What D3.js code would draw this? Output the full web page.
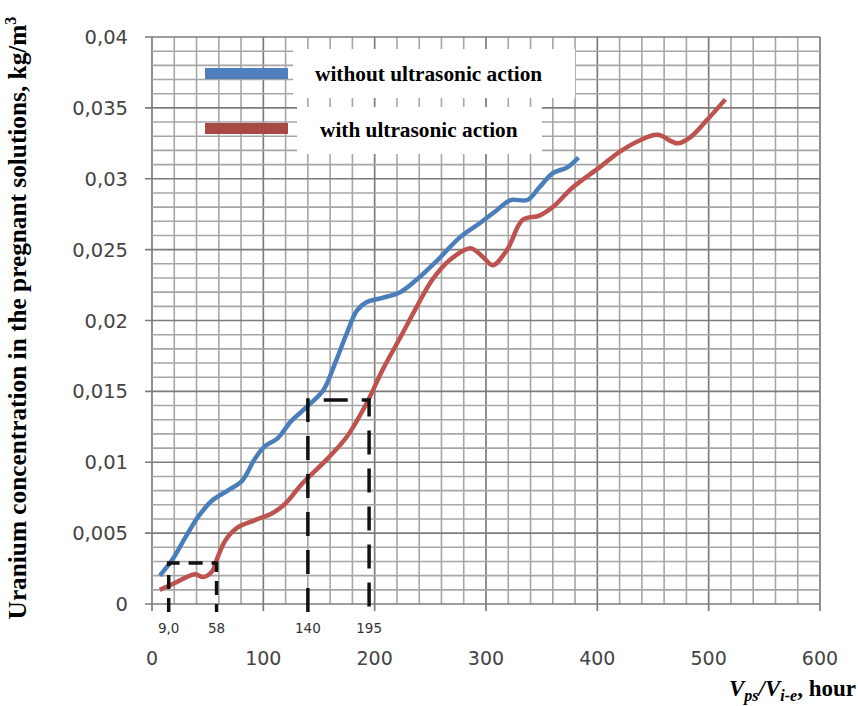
<!DOCTYPE html>
<html>
<head>
<meta charset="utf-8">
<script src="https://cdn.jsdelivr.net/npm/d3@7"></script>
<style>
  body { margin: 0; background: #fff; }
  svg { display: block; }
</style>
</head>
<body>
<div class="chart"></div>
<script>
// values
var blueX = [7, 18, 30, 41, 54, 68, 81, 92, 101, 113, 125, 139, 154, 163, 175, 184, 193, 207, 223, 238, 257, 277, 295, 310, 322, 337, 348, 360, 373, 383];
var blueY = [.0020, .0031, .0047, .0061, .0073, .0080, .0087, .0102, .0111, .0117, .0129, .0139, .0151, .0167, .0191, .0207, .0213, .0216, .0220, .0229, .0243, .0259, .0269, .0278, .0285, .0285, .0294, .0304, .0308, .0315];
var redX = [7, 21, 31, 39, 46, 54, 58, 66, 77, 92, 108, 120, 135, 157, 175, 193, 207, 223, 238, 252, 268, 286, 297, 306, 319, 333, 348, 360, 378, 402, 420, 438, 454, 472, 483, 498, 515];
var redY = [.0010, .0015, .0019, .0021, .0019, .0023, .0031, .0045, .0054, .0059, .0064, .0071, .0085, .0102, .0118, .0142, .0165, .0188, .0210, .0229, .0243, .0251, .0245, .0239, .0250, .0271, .0274, .0280, .0294, .0308, .0319, .0327, .0331, .0325, .0329, .0341, .0356];
var xTicks = [0, 100, 200, 300, 400, 500, 600];
var yTicks = [0, 0.005, 0.01, 0.015, 0.02, 0.025, 0.03, 0.035, 0.04];
var yTickLabels = ["0", "0,005", "0,01", "0,015", "0,02", "0,025", "0,03", "0,035", "0,04"];
var markX = [15, 58, 140, 195];
var markLabels = ["9,0", "58", "140", "195"];
var smallBoxTop = 0.0029, bigBoxTop = 0.0144;
var seriesNames = ["without ultrasonic action", "with ultrasonic action"];

var W = 858, H = 706;
var svg = d3.select(".chart").append("svg").attr("width", W).attr("height", H);

var x = d3.scaleLinear().domain([0, 600]).range([152, 820]);
var y = d3.scaleLinear().domain([0, 0.04]).range([604, 37]);

// grid: minor every 20 / 0.001, major every 100 / 0.005
var grid = svg.append("g");
grid.selectAll(".vx").data(d3.range(0, 601, 20)).join("line")
    .attr("x1", d => x(d)).attr("x2", d => x(d))
    .attr("y1", y(0.04)).attr("y2", d => d % 100 === 0 ? y(0) + 7 : y(0))
    .attr("stroke", d => d % 100 === 0 ? "#7c7c7c" : "#a6a6a6")
    .attr("stroke-width", d => d % 100 === 0 ? 1.7 : 1.6);
grid.selectAll(".hy").data(d3.range(0, 41)).join("line")
    .attr("y1", d => y(d / 1000)).attr("y2", d => y(d / 1000))
    .attr("x1", d => d % 5 === 0 ? x(0) - 7 : x(0)).attr("x2", x(600))
    .attr("stroke", d => d % 5 === 0 ? "#7c7c7c" : "#a6a6a6")
    .attr("stroke-width", d => d % 5 === 0 ? 1.7 : 1.6);

// tick labels
var tickFont = "'DejaVu Sans', sans-serif";
svg.append("g").selectAll("text").data(yTicks).join("text")
    .attr("x", 128).attr("y", d => y(d)).attr("dy", "0.36em")
    .attr("text-anchor", "end")
    .attr("font-family", tickFont).attr("font-size", 19.5).attr("fill", "#444")
    .text((d, i) => yTickLabels[i]);
svg.append("g").selectAll("text").data(xTicks).join("text")
    .attr("x", d => x(d)).attr("y", 665)
    .attr("text-anchor", "middle")
    .attr("font-family", tickFont).attr("font-size", 19).attr("fill", "#444")
    .text(d => d);

// curves
var line = d3.line().curve(d3.curveCatmullRom.alpha(0.5));
var bluePts = blueX.map((v, i) => [x(v), y(blueY[i])]);
var redPts = redX.map((v, i) => [x(v), y(redY[i])]);
svg.append("path").attr("d", line(redPts)).attr("fill", "none")
    .attr("stroke", "#bd524e").attr("stroke-width", 4.5).attr("stroke-linejoin", "round");
svg.append("path").attr("d", line(bluePts)).attr("fill", "none")
    .attr("stroke", "#4a7ebb").attr("stroke-width", 4.5).attr("stroke-linejoin", "round");

// dashed boxes
function box(x0, x1, top) {
  var p = d3.path();
  p.moveTo(x(x0), y(0) + 8);
  p.lineTo(x(x0), y(top));
  p.lineTo(x(x1), y(top));
  p.lineTo(x(x1), y(0) + 8);
  return p.toString();
}
var boxes = svg.append("g").attr("fill", "none").attr("stroke", "#111")
    .attr("stroke-width", 3.5).attr("stroke-dasharray", "24,14");
boxes.append("path").attr("d", box(markX[0], markX[1], smallBoxTop)).attr("stroke-dasharray", "14,9");
boxes.append("path").attr("d", box(markX[2], markX[3], bigBoxTop));

svg.append("g").selectAll("text").data(markX).join("text")
    .attr("x", d => x(d)).attr("y", 633)
    .attr("text-anchor", "middle")
    .attr("font-family", tickFont).attr("font-size", 13.5).attr("fill", "#333")
    .text((d, i) => markLabels[i]);

// legend
var legend = svg.append("g");
legend.append("rect").attr("x", 293).attr("y", 49).attr("width", 282).attr("height", 49).attr("fill", "#fff");
legend.append("rect").attr("x", 297).attr("y", 107).attr("width", 245).attr("height", 47).attr("fill", "#fff");
legend.append("rect").attr("x", 205).attr("y", 68).attr("width", 83).attr("height", 11).attr("fill", "#4f7fbd");
legend.append("rect").attr("x", 205).attr("y", 123).attr("width", 83).attr("height", 11).attr("fill", "#a84a43");
legend.append("text").attr("x", 315).attr("y", 81)
    .attr("font-family", "'Liberation Serif', serif").attr("font-weight", "bold").attr("font-size", 21.3)
    .text(seriesNames[0]);
legend.append("text").attr("x", 320).attr("y", 137)
    .attr("font-family", "'Liberation Serif', serif").attr("font-weight", "bold").attr("font-size", 21.3)
    .text(seriesNames[1]);

// axis titles
var yTitle = svg.append("text")
    .attr("transform", "translate(26,318) rotate(-90)")
    .attr("text-anchor", "middle")
    .attr("font-family", "'Liberation Serif', serif").attr("font-weight", "bold").attr("font-size", 25.3);
yTitle.append("tspan").text("Uranium concentration in the pregnant solutions, kg/m");
yTitle.append("tspan").attr("font-size", 16).attr("dy", -10).text("3");

var xTitle = svg.append("text")
    .attr("x", 856).attr("y", 696).attr("text-anchor", "end")
    .attr("font-family", "'Liberation Serif', serif").attr("font-weight", "bold").attr("font-size", 23);
xTitle.append("tspan").attr("font-style", "italic").text("V");
xTitle.append("tspan").attr("font-style", "italic").attr("font-size", 16).attr("dy", 5).text("ps");
xTitle.append("tspan").attr("dy", -5).attr("font-style", "italic").text("/V");
xTitle.append("tspan").attr("font-style", "italic").attr("font-size", 16).attr("dy", 5).text("i-e");
xTitle.append("tspan").attr("dy", -5).text(", hour");
</script>
</body>
</html>
